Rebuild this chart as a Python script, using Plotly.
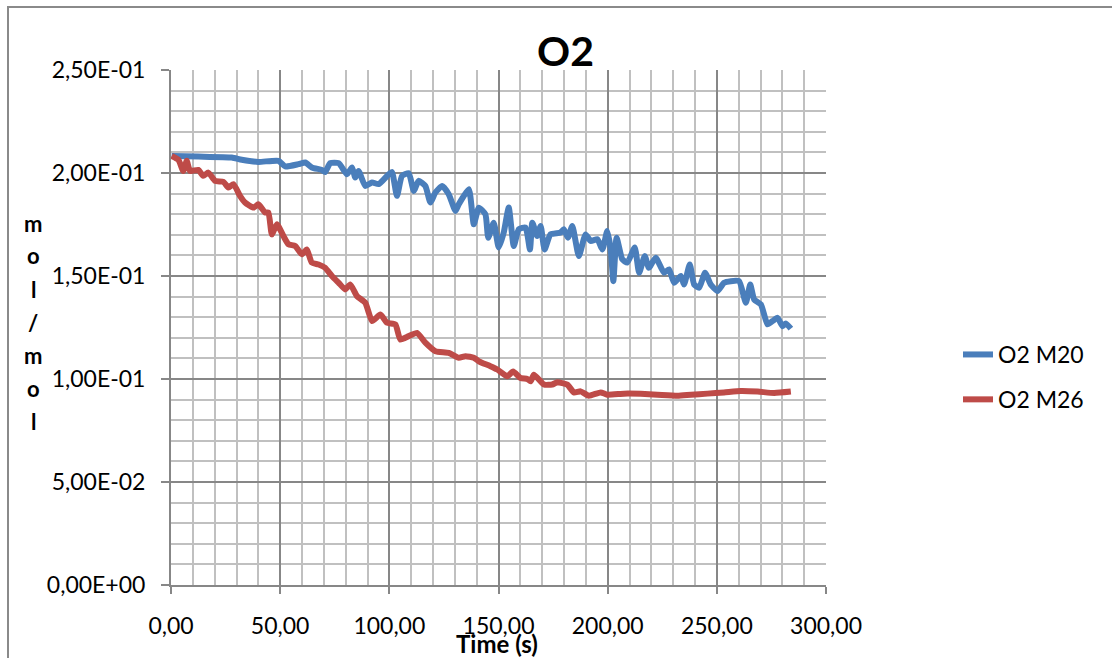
import plotly.graph_objects as go

# ---- data ----
t_m20 = [0.3, 12.5, 27.8, 32.4, 40.0, 49.2, 52.3, 58.4, 61.5, 64.5, 69.1, 70.6, 72.9, 76.8,
         80.6, 82.9, 84.4, 85.9, 89.0, 92.1, 95.1, 99.7, 101.2, 103.5, 105.8, 108.9, 111.2,
         113.4, 116.5, 118.8, 121.1, 124.2, 127.2, 130.3, 131.8, 136.4, 138.7, 141.0, 144.0,
         145.3, 147.8, 150.1, 152.4, 154.7, 157.0, 159.3, 162.4, 164.4, 165.5, 167.7, 169.3,
         171.1, 173.8, 178.4, 179.9, 181.8, 183.8, 186.8, 189.9, 192.2, 195.3, 197.6, 199.8,
         201.4, 202.6, 204.1, 206.7, 209.0, 212.4, 214.4, 217.0, 218.9, 222.0, 225.8, 228.1,
         230.4, 233.5, 235.0, 237.6, 239.6, 241.9, 244.6, 247.2, 250.3, 253.3, 256.4, 260.2,
         263.3, 265.3, 267.1, 270.2, 273.2, 275.5, 277.8, 280.1, 281.6, 283.9]
v_m20 = [0.2083, 0.2080, 0.2075, 0.2064, 0.2054, 0.2059, 0.2032, 0.2043, 0.2051, 0.2027,
         0.2015, 0.2005, 0.2048, 0.2048, 0.1994, 0.2027, 0.1978, 0.2010, 0.1937, 0.1954,
         0.1946, 0.1994, 0.2005, 0.1889, 0.1986, 0.1999, 0.1913, 0.1962, 0.1937, 0.1857,
         0.1905, 0.1937, 0.1897, 0.1816, 0.1848, 0.1921, 0.1751, 0.1832, 0.1800, 0.1686,
         0.1759, 0.1638, 0.1711, 0.1832, 0.1646, 0.1727, 0.1735, 0.1629, 0.1759, 0.1694,
         0.1743, 0.1629, 0.1702, 0.1711, 0.1727, 0.1686, 0.1743, 0.1597, 0.1702, 0.1670,
         0.1678, 0.1629, 0.1718, 0.1629, 0.1475, 0.1686, 0.1581, 0.1565, 0.1638, 0.1516,
         0.1597, 0.1540, 0.1589, 0.1516, 0.1532, 0.1467, 0.1500, 0.1459, 0.1556, 0.1459,
         0.1443, 0.1516, 0.1459, 0.1427, 0.1467, 0.1475, 0.1475, 0.1370, 0.1459, 0.1386,
         0.1362, 0.1265, 0.1281, 0.1297, 0.1256, 0.1270, 0.1244]

t_m26 = [0.3, 3.4, 5.6, 7.2, 8.7, 12.5, 14.8, 17.1, 20.2, 24.0, 26.3, 28.6, 31.6, 33.9, 37.8,
         40.0, 43.1, 44.6, 46.2, 48.5, 51.5, 53.8, 56.9, 59.9, 62.2, 64.5, 67.6, 70.6, 73.7,
         76.8, 79.8, 82.1, 85.2, 89.0, 92.1, 95.9, 98.9, 102.8, 105.0, 108.9, 112.7, 116.5,
         121.1, 127.2, 131.8, 134.9, 138.7, 141.0, 146.3, 149.4, 154.0, 156.7, 160.1, 163.2,
         164.7, 166.2, 170.8, 174.6, 176.9, 181.5, 184.5, 187.6, 191.4, 196.8, 199.8, 207.5,
         215.1, 222.8, 232.0, 238.1, 245.7, 253.3, 261.0, 268.7, 276.3, 283.9]
v_m26 = [0.2083, 0.2064, 0.2010, 0.2059, 0.2010, 0.2015, 0.1986, 0.2002, 0.1962, 0.1957,
         0.1930, 0.1946, 0.1889, 0.1857, 0.1832, 0.1848, 0.1808, 0.1808, 0.1702, 0.1751,
         0.1694, 0.1654, 0.1646, 0.1605, 0.1629, 0.1565, 0.1556, 0.1540, 0.1500, 0.1467,
         0.1435, 0.1459, 0.1402, 0.1370, 0.1281, 0.1313, 0.1273, 0.1265, 0.1192, 0.1208,
         0.1224, 0.1176, 0.1135, 0.1127, 0.1103, 0.1111, 0.1103, 0.1086, 0.1062, 0.1046,
         0.1013, 0.1037, 0.1005, 0.1000, 0.0989, 0.1021, 0.0973, 0.0973, 0.0984, 0.0973,
         0.0935, 0.0940, 0.0919, 0.0935, 0.0924, 0.0929, 0.0928, 0.0924, 0.0919, 0.0924,
         0.0929, 0.0935, 0.0942, 0.0939, 0.0932, 0.0939]

series_names = ["O2 M20", "O2 M26"]
y_tickvals = [0.0, 0.05, 0.10, 0.15, 0.20, 0.25]
y_ticktext = ["0,00E+00", "5,00E-02", "1,00E-01", "1,50E-01", "2,00E-01", "2,50E-01"]
y_title_letters = ["m", "o", "l", "/", "m", "o", "l"]

FONT = "Lato"
W, H = 1112, 658
ML, MR, MT, MB = 171, 1112 - 826, 70, 658 - 585
PW, PH = W - ML - MR, H - MT - MB


def px_x(px):
    return (px - ML) / PW


def px_y(py):
    return 1 + (MT - py) / PH


fig = go.Figure()
fig.add_trace(go.Scatter(x=t_m20, y=v_m20, mode="lines", name=series_names[0],
                         line=dict(color="#4a7ebb", width=6, shape="spline", smoothing=0.5),
                         legendgroup="a"))
fig.add_trace(go.Scatter(x=t_m26, y=v_m26, mode="lines", name=series_names[1],
                         line=dict(color="#be4b48", width=6, shape="spline", smoothing=0.5),
                         legendgroup="b"))

major = "#878787"
minor = "#c0c0c0"
fig.update_xaxes(range=[0, 300], dtick=50, tick0=0, tickformat=".2f",
                 showgrid=True, gridcolor=major, gridwidth=2,
                 minor=dict(dtick=10, showgrid=True, gridcolor=minor, gridwidth=2),
                 ticks="outside", ticklen=7, tickwidth=2, tickcolor=major,
                 showline=True, linecolor=major, linewidth=2, zeroline=False,
                 tickfont=dict(family=FONT, size=23, color="black"),
                 ticklabelstandoff=12, fixedrange=True)
fig.update_yaxes(range=[0, 0.25], tickmode="array", tickvals=y_tickvals, ticktext=y_ticktext,
                 showgrid=True, gridcolor=major, gridwidth=2,
                 minor=dict(dtick=0.01, tick0=0, showgrid=True, gridcolor=minor, gridwidth=2),
                 ticks="outside", ticklen=8, tickwidth=2, tickcolor=major,
                 showline=True, linecolor=major, linewidth=2, zeroline=False,
                 tickfont=dict(family=FONT, size=23, color="black"),
                 ticklabelstandoff=11, fixedrange=True)

annotations = [
    dict(text="<b>O2</b>", x=px_x(565), y=px_y(50), xref="paper", yref="paper",
         showarrow=False, font=dict(family=FONT, size=41, color="black"),
         xanchor="center", yanchor="middle"),
    dict(text="<b>Time (s)</b>", x=px_x(497), y=px_y(643), xref="paper", yref="paper",
         showarrow=False, font=dict(family=FONT, size=24, color="black"),
         xanchor="center", yanchor="middle"),
]
for i, ch in enumerate(y_title_letters):
    annotations.append(dict(text="<b>%s</b>" % ch, x=px_x(33), y=px_y(223 + 33 * i),
                            xref="paper", yref="paper", showarrow=False,
                            font=dict(family=FONT, size=22, color="black"),
                            xanchor="center", yanchor="middle"))

fig.update_layout(
    width=W, height=H,
    margin=dict(l=ML, r=MR, t=MT, b=MB),
    paper_bgcolor="white", plot_bgcolor="white",
    separators=",.",
    showlegend=True,
    legend=dict(x=px_x(958), y=px_y(333), xanchor="left", yanchor="top",
                font=dict(family=FONT, size=23, color="black"),
                tracegroupgap=12, bgcolor="rgba(0,0,0,0)"),
    annotations=annotations,
    shapes=[dict(type="rect", xref="paper", yref="paper",
                 x0=px_x(8), x1=px_x(1130), y0=px_y(680), y1=px_y(7),
                 line=dict(color="#8a8a8a", width=2), fillcolor="rgba(0,0,0,0)",
                 layer="below")],
)

fig.write_html("out.html", config={"displayModeBar": False})
